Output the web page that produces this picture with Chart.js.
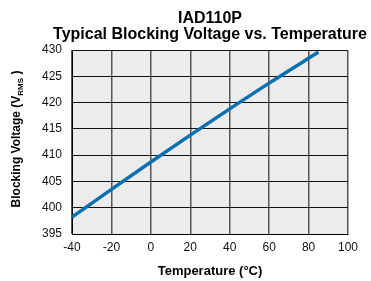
<!DOCTYPE html>
<html>
<head>
<meta charset="utf-8">
<script src="https://cdn.jsdelivr.net/npm/chart.js@4"></script>
<style>
  html, body { margin: 0; padding: 0; background: #fff; }
  #wrap { width: 371px; height: 281px; }
</style>
</head>
<body>
<div id="wrap"><canvas id="chart" width="371" height="281"></canvas></div>
<script>
const temps = [-40, -20, 0, 20, 40, 60, 85]
const voltage = [398.2, 403.5, 408.7, 413.8, 418.8, 423.7, 429.6]
const titleLines = ["IAD110P", "Typical Blocking Voltage vs. Temperature"]

const FONT = "'Liberation Sans', Arial, sans-serif"

// plot background + hand drawn titles (y title needs a subscript)
const decor = {
  id: "decor",
  beforeDraw(chart) {
    const { ctx, chartArea: a } = chart
    ctx.save()
    ctx.fillStyle = "#ececec"
    ctx.fillRect(a.left, a.top, a.right - a.left, a.bottom - a.top)
    ctx.restore()
  },
  afterDraw(chart) {
    const { ctx, chartArea: a } = chart
    const cx = (a.left + a.right) / 2
    ctx.save()
    ctx.fillStyle = "#000"
    ctx.textAlign = "center"
    ctx.textBaseline = "alphabetic"
    ctx.font = "bold 16px " + FONT
    ctx.fillText(titleLines[0], cx, 23)
    ctx.fillText(titleLines[1], cx, 38.5)

    ctx.font = "bold 13px " + FONT
    ctx.fillText("Temperature (\u00B0C)", cx, 274.5)

    // y axis title
    ctx.translate(20, 139)
    ctx.rotate(-Math.PI / 2)
    const main = "Blocking Voltage (V"
    const sub = "RMS"
    const end = " )"
    ctx.font = "bold 12px " + FONT
    const w1 = ctx.measureText(main).width
    const w3 = ctx.measureText(end).width
    ctx.font = "bold 8px " + FONT
    const w2 = ctx.measureText(sub).width
    let x = -(w1 + w2 + w3) / 2
    ctx.textAlign = "left"
    ctx.font = "bold 12px " + FONT
    ctx.fillText(main, x, 0)
    x += w1
    ctx.font = "bold 8px " + FONT
    ctx.fillText(sub, x, 3)
    x += w2
    ctx.font = "bold 12px " + FONT
    ctx.fillText(end, x, 0)
    ctx.restore()
  }
}

new Chart(document.getElementById("chart").getContext("2d"), {
  type: "line",
  data: {
    datasets: [{
      data: temps.map((t, i) => ({ x: t, y: voltage[i] })),
      borderColor: "#0a70b0",
      borderWidth: 3.5,
      pointRadius: 0,
      cubicInterpolationMode: "monotone",
      fill: false
    }]
  },
  options: {
    responsive: false,
    animation: false,
    layout: { padding: { top: 50, right: 23, left: 0, bottom: 0 } },
    plugins: {
      legend: { display: false },
      title: { display: false },
      tooltip: { enabled: false }
    },
    scales: {
      x: {
        type: "linear",
        min: -40,
        max: 100,
        ticks: { stepSize: 20, color: "#111", padding: 6, font: { family: FONT, size: 12 } },
        grid: { color: "#555", lineWidth: 1.5, drawTicks: false },
        border: { color: "#000", width: 1 },
        afterFit: s => { s.height = 47 }
      },
      y: {
        min: 395,
        max: 430,
        ticks: { stepSize: 5, color: "#111", padding: 10, font: { family: FONT, size: 12 } },
        grid: { color: "#111", lineWidth: 1, drawTicks: false },
        border: { color: "#000", width: 1 },
        afterFit: s => { s.width = 72 }
      }
    }
  },
  plugins: [decor]
})
</script>
</body>
</html>
